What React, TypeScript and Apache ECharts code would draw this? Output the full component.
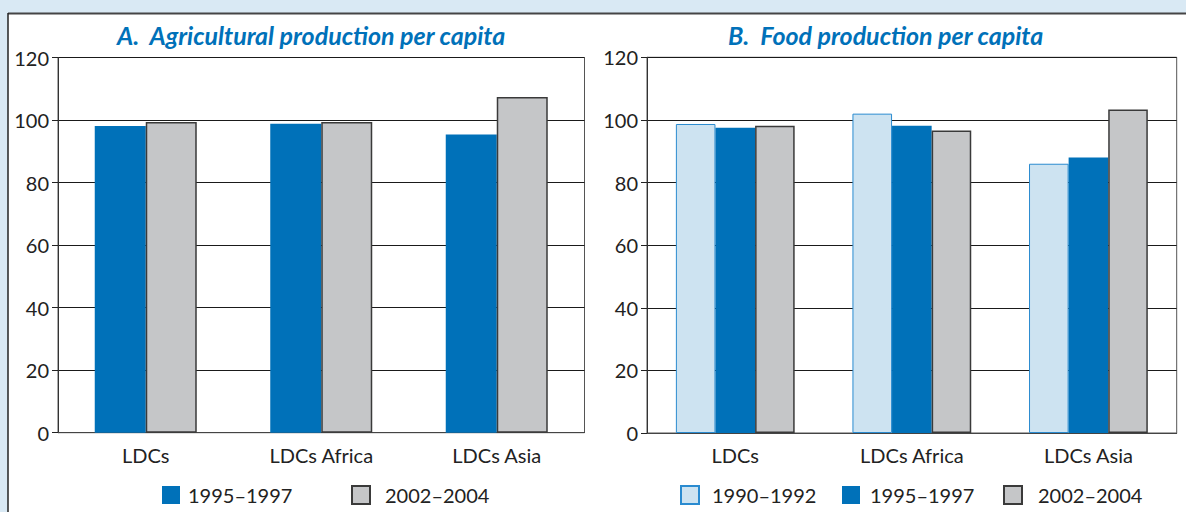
import React, { useEffect, useRef } from "react";
import * as echarts from "echarts";

const categories = ["LDCs", "LDCs Africa", "LDCs Asia"];
const agri1995 = [98.1, 98.8, 95.4];
const agri2002 = [99.4, 99.4, 107.4];
const food1990 = [98.7, 102.0, 86.0];
const food1995 = [97.5, 98.1, 88.0];
const food2002 = [98.1, 96.6, 103.3];
const titleA = "A.  Agricultural production per capita";
const titleB = "B.  Food production per capita";
const name1990 = "1990–1992";
const name1995 = "1995–1997";
const name2002 = "2002–2004";

const FONT = "Lato";
const BLUE = "#0071b9";
const LIGHT = "#cde3f1";
const LIGHT_BORDER = "#2a8bd0";
const GRAY = "#c5c6c8";
const GRAY_BORDER = "#3a3a3a";

export default function App() {
  const ref = useRef<HTMLDivElement>(null);
  useEffect(() => {
    const chart = echarts.init(ref.current!, null, { renderer: "svg" });
    const yAxisBase = (gridIndex: number) => ({
      type: "value",
      gridIndex,
      min: 0,
      max: 120,
      interval: 20,
      axisLine: { show: true, lineStyle: { color: "#333", width: 1 } },
      axisTick: { show: true, length: 6, lineStyle: { color: "#222" } },
      axisLabel: {
        fontFamily: FONT,
        fontSize: 20,
        color: "#222",
        margin: 9,
      },
      splitLine: { show: true, lineStyle: { color: "#1a1a1a", width: 1 } },
    });
    const xAxisBase = (gridIndex: number) => ({
      type: "category",
      gridIndex,
      data: categories,
      axisLine: { show: true, lineStyle: { color: "#444", width: 1 } },
      axisTick: { show: false },
      axisLabel: { fontFamily: FONT, fontSize: 20, color: "#222", margin: 12 },
    });
    const blueStyle = { color: BLUE };
    const grayStyle = { color: GRAY, borderColor: GRAY_BORDER, borderWidth: 1.5 };
    const lightStyle = { color: LIGHT, borderColor: LIGHT_BORDER, borderWidth: 1 };
    const legend = (name: string, left: number, pad: number) => ({
      data: [name],
      left,
      top: 485,
      padding: 0,
      icon: "rect",
      itemWidth: 18,
      itemHeight: 18,
      selectedMode: false,
      textStyle: {
        fontFamily: FONT,
        fontSize: 20,
        color: "#222",
        padding: [0, 0, 0, pad],
      },
    });
    const titleStyle = {
      fontFamily: FONT,
      fontSize: 25,
      fontWeight: "bold",
      fontStyle: "italic",
      color: BLUE,
    };
    chart.setOption({
      animation: false,
      backgroundColor: "#d9e9f4",
      graphic: [
        {
          type: "rect",
          z: -100,
          shape: { x: 8, y: 14, width: 1200, height: 520 },
          style: { fill: "#ffffff" },
        },
        {
          type: "line",
          z: -99,
          shape: { x1: 8, y1: 13.5, x2: 1190, y2: 13.5 },
          style: { stroke: "#454545", lineWidth: 2 },
        },
        {
          type: "line",
          z: -99,
          shape: { x1: 8, y1: 13, x2: 8, y2: 520 },
          style: { stroke: "#222", lineWidth: 1.5 },
        },
      ],
      title: [
        { text: titleA, left: 117, top: 22, padding: 0, textStyle: titleStyle },
        { text: titleB, left: 728, top: 22, padding: 0, textStyle: titleStyle },
      ],
      legend: [
        legend(name1995, 162, 3),
        legend(name2002, 351, 10),
        legend(name1990, 680, 8),
        legend(name1995, 842, 5),
        legend(name2002, 1003, 11),
      ],
      grid: [
        {
          left: 58,
          top: 57.5,
          right: 1186 - 584.5,
          bottom: 512 - 432.7,
          show: true,
          borderColor: "#555",
          borderWidth: 1,
          backgroundColor: "#fff",
        },
        {
          left: 647,
          top: 57.3,
          right: 1186 - 1176.7,
          bottom: 512 - 433,
          show: true,
          borderColor: "#555",
          borderWidth: 1,
          backgroundColor: "#fff",
        },
      ],
      xAxis: [xAxisBase(0), xAxisBase(1)],
      yAxis: [yAxisBase(0), yAxisBase(1)],
      series: [
        {
          type: "bar",
          name: name1995,
          xAxisIndex: 0,
          yAxisIndex: 0,
          data: agri1995,
          barWidth: 51,
          barGap: "0%",
          itemStyle: blueStyle,
        },
        {
          type: "bar",
          name: name2002,
          xAxisIndex: 0,
          yAxisIndex: 0,
          data: agri2002,
          barWidth: 51,
          barGap: "0%",
          itemStyle: grayStyle,
        },
        {
          type: "bar",
          name: name1990,
          xAxisIndex: 1,
          yAxisIndex: 1,
          data: food1990,
          barWidth: 39.6,
          barGap: "0%",
          itemStyle: lightStyle,
        },
        {
          type: "bar",
          name: name1995,
          xAxisIndex: 1,
          yAxisIndex: 1,
          data: food1995,
          barWidth: 39.6,
          barGap: "0%",
          itemStyle: blueStyle,
        },
        {
          type: "bar",
          name: name2002,
          xAxisIndex: 1,
          yAxisIndex: 1,
          data: food2002,
          barWidth: 39.6,
          barGap: "0%",
          itemStyle: grayStyle,
        },
      ],
    });
    return () => chart.dispose();
  }, []);
  return (
    <div
      ref={ref}
      style={{ position: "absolute", left: 0, top: 0, width: 1186, height: 512 }}
    />
  );
}
